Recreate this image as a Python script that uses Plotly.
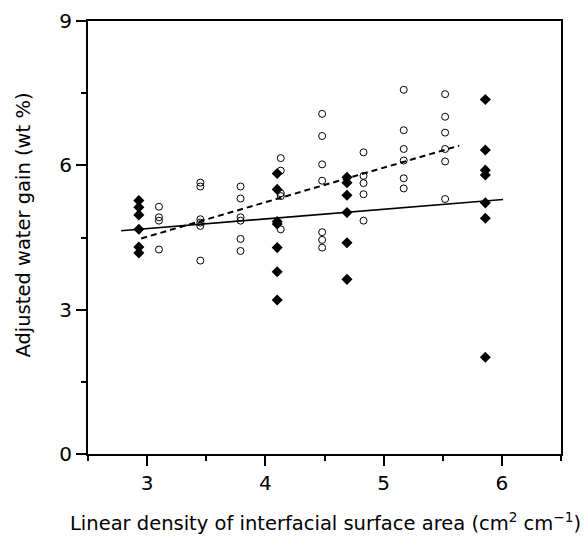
import plotly.graph_objects as go

# Filled diamonds (one group)
diamond_x = [2.93, 2.93, 2.93, 2.93, 2.93, 2.93,
             4.10, 4.10, 4.10, 4.10, 4.10, 4.10, 4.10,
             4.69, 4.69, 4.69, 4.69, 4.69, 4.69,
             5.86, 5.86, 5.86, 5.86, 5.86, 5.86, 5.86]
diamond_y = [5.27, 5.13, 4.97, 4.67, 4.30, 4.18,
             5.83, 5.50, 4.83, 4.78, 4.29, 3.79, 3.20,
             5.75, 5.64, 5.38, 5.02, 4.39, 3.63,
             7.37, 6.32, 5.90, 5.80, 5.22, 4.90, 2.01]

# Open circles (other group)
circle_x = [3.10, 3.10, 3.10, 3.10,
            3.45, 3.45, 3.45, 3.45, 3.45, 3.45,
            3.79, 3.79, 3.79, 3.79, 3.79, 3.79,
            4.13, 4.13, 4.13, 4.13, 4.13,
            4.48, 4.48, 4.48, 4.48, 4.48, 4.48, 4.48,
            4.83, 4.83, 4.83, 4.83, 4.83,
            5.17, 5.17, 5.17, 5.17, 5.17, 5.17,
            5.52, 5.52, 5.52, 5.52, 5.52, 5.52]
circle_y = [5.14, 4.92, 4.85, 4.25,
            5.64, 5.56, 4.88, 4.81, 4.74, 4.02,
            5.56, 5.31, 4.92, 4.85, 4.47, 4.22,
            6.15, 5.89, 5.42, 5.36, 4.67,
            7.07, 6.61, 6.02, 5.68, 4.61, 4.45, 4.29,
            6.27, 5.78, 5.63, 5.40, 4.85,
            7.57, 6.73, 6.34, 6.10, 5.73, 5.52,
            7.48, 7.01, 6.68, 6.34, 6.08, 5.30]

# Fitted lines (end points)
fit_diamond_x = [2.78, 6.01]
fit_diamond_y = [4.64, 5.29]
fit_circle_x = [2.95, 5.64]
fit_circle_y = [4.48, 6.41]

x_ticks = [3, 4, 5, 6]
y_ticks = [0, 3, 6, 9]
x_title = "Linear density of interfacial surface area (cm<sup>2</sup> cm<sup>−1</sup>)"
y_title = "Adjusted water gain (wt %)"

FONT = "DejaVu Sans, Verdana, sans-serif"

fig = go.Figure()
fig.add_trace(go.Scatter(x=fit_circle_x, y=fit_circle_y, mode="lines",
                         line=dict(color="black", width=2, dash="6px,4px"),
                         showlegend=False, hoverinfo="skip"))
fig.add_trace(go.Scatter(x=fit_diamond_x, y=fit_diamond_y, mode="lines",
                         line=dict(color="black", width=1.7),
                         showlegend=False, hoverinfo="skip"))
fig.add_trace(go.Scatter(x=circle_x, y=circle_y, mode="markers",
                         marker=dict(symbol="circle-open", size=7, color="black",
                                     line=dict(width=1, color="black")),
                         showlegend=False))
fig.add_trace(go.Scatter(x=diamond_x, y=diamond_y, mode="markers",
                         marker=dict(symbol="diamond", size=8.5, color="black",
                                     line=dict(width=0)),
                         showlegend=False))

axis_common = dict(
    showgrid=False, zeroline=False, showline=True, linecolor="black", linewidth=2,
    mirror=True, ticks="outside", ticklen=10, tickwidth=2, tickcolor="black",
    tickfont=dict(family=FONT, size=20, color="black"),
    automargin=False,
)

fig.update_xaxes(
    range=[2.5, 6.5], tickvals=x_ticks, ticktext=[str(v) for v in x_ticks],
    minor=dict(tickvals=[2.5, 3.5, 4.5, 5.5, 6.5], ticklen=5, tickwidth=2,
               tickcolor="black", ticks="outside"),
    **axis_common,
)
fig.update_yaxes(
    range=[0, 9], tickvals=y_ticks, ticktext=[str(v) for v in y_ticks],
    minor=dict(tickvals=[1.5, 4.5, 7.5], ticklen=5, tickwidth=2,
               tickcolor="black", ticks="outside"),
    **axis_common,
)

fig.add_annotation(text=x_title, xref="paper", yref="paper", x=1.046, y=-0.1917,
                   xanchor="right", yanchor="bottom", showarrow=False,
                   font=dict(family=FONT, size=19.5, color="black"))
fig.add_annotation(text=y_title, xref="paper", yref="paper", x=-0.137, y=0.528,
                   xanchor="center", yanchor="middle", textangle=-90, showarrow=False,
                   font=dict(family=FONT, size=19.5, color="black"))

fig.update_layout(
    width=584, height=537,
    margin=dict(l=88, r=23, t=21, b=83, pad=0),
    plot_bgcolor="white", paper_bgcolor="white",
    font=dict(family=FONT, color="black"),
)

fig.write_html("out.html", config={"displayModeBar": False},
               post_script="document.body.style.margin='0';document.body.style.overflow='hidden';")
